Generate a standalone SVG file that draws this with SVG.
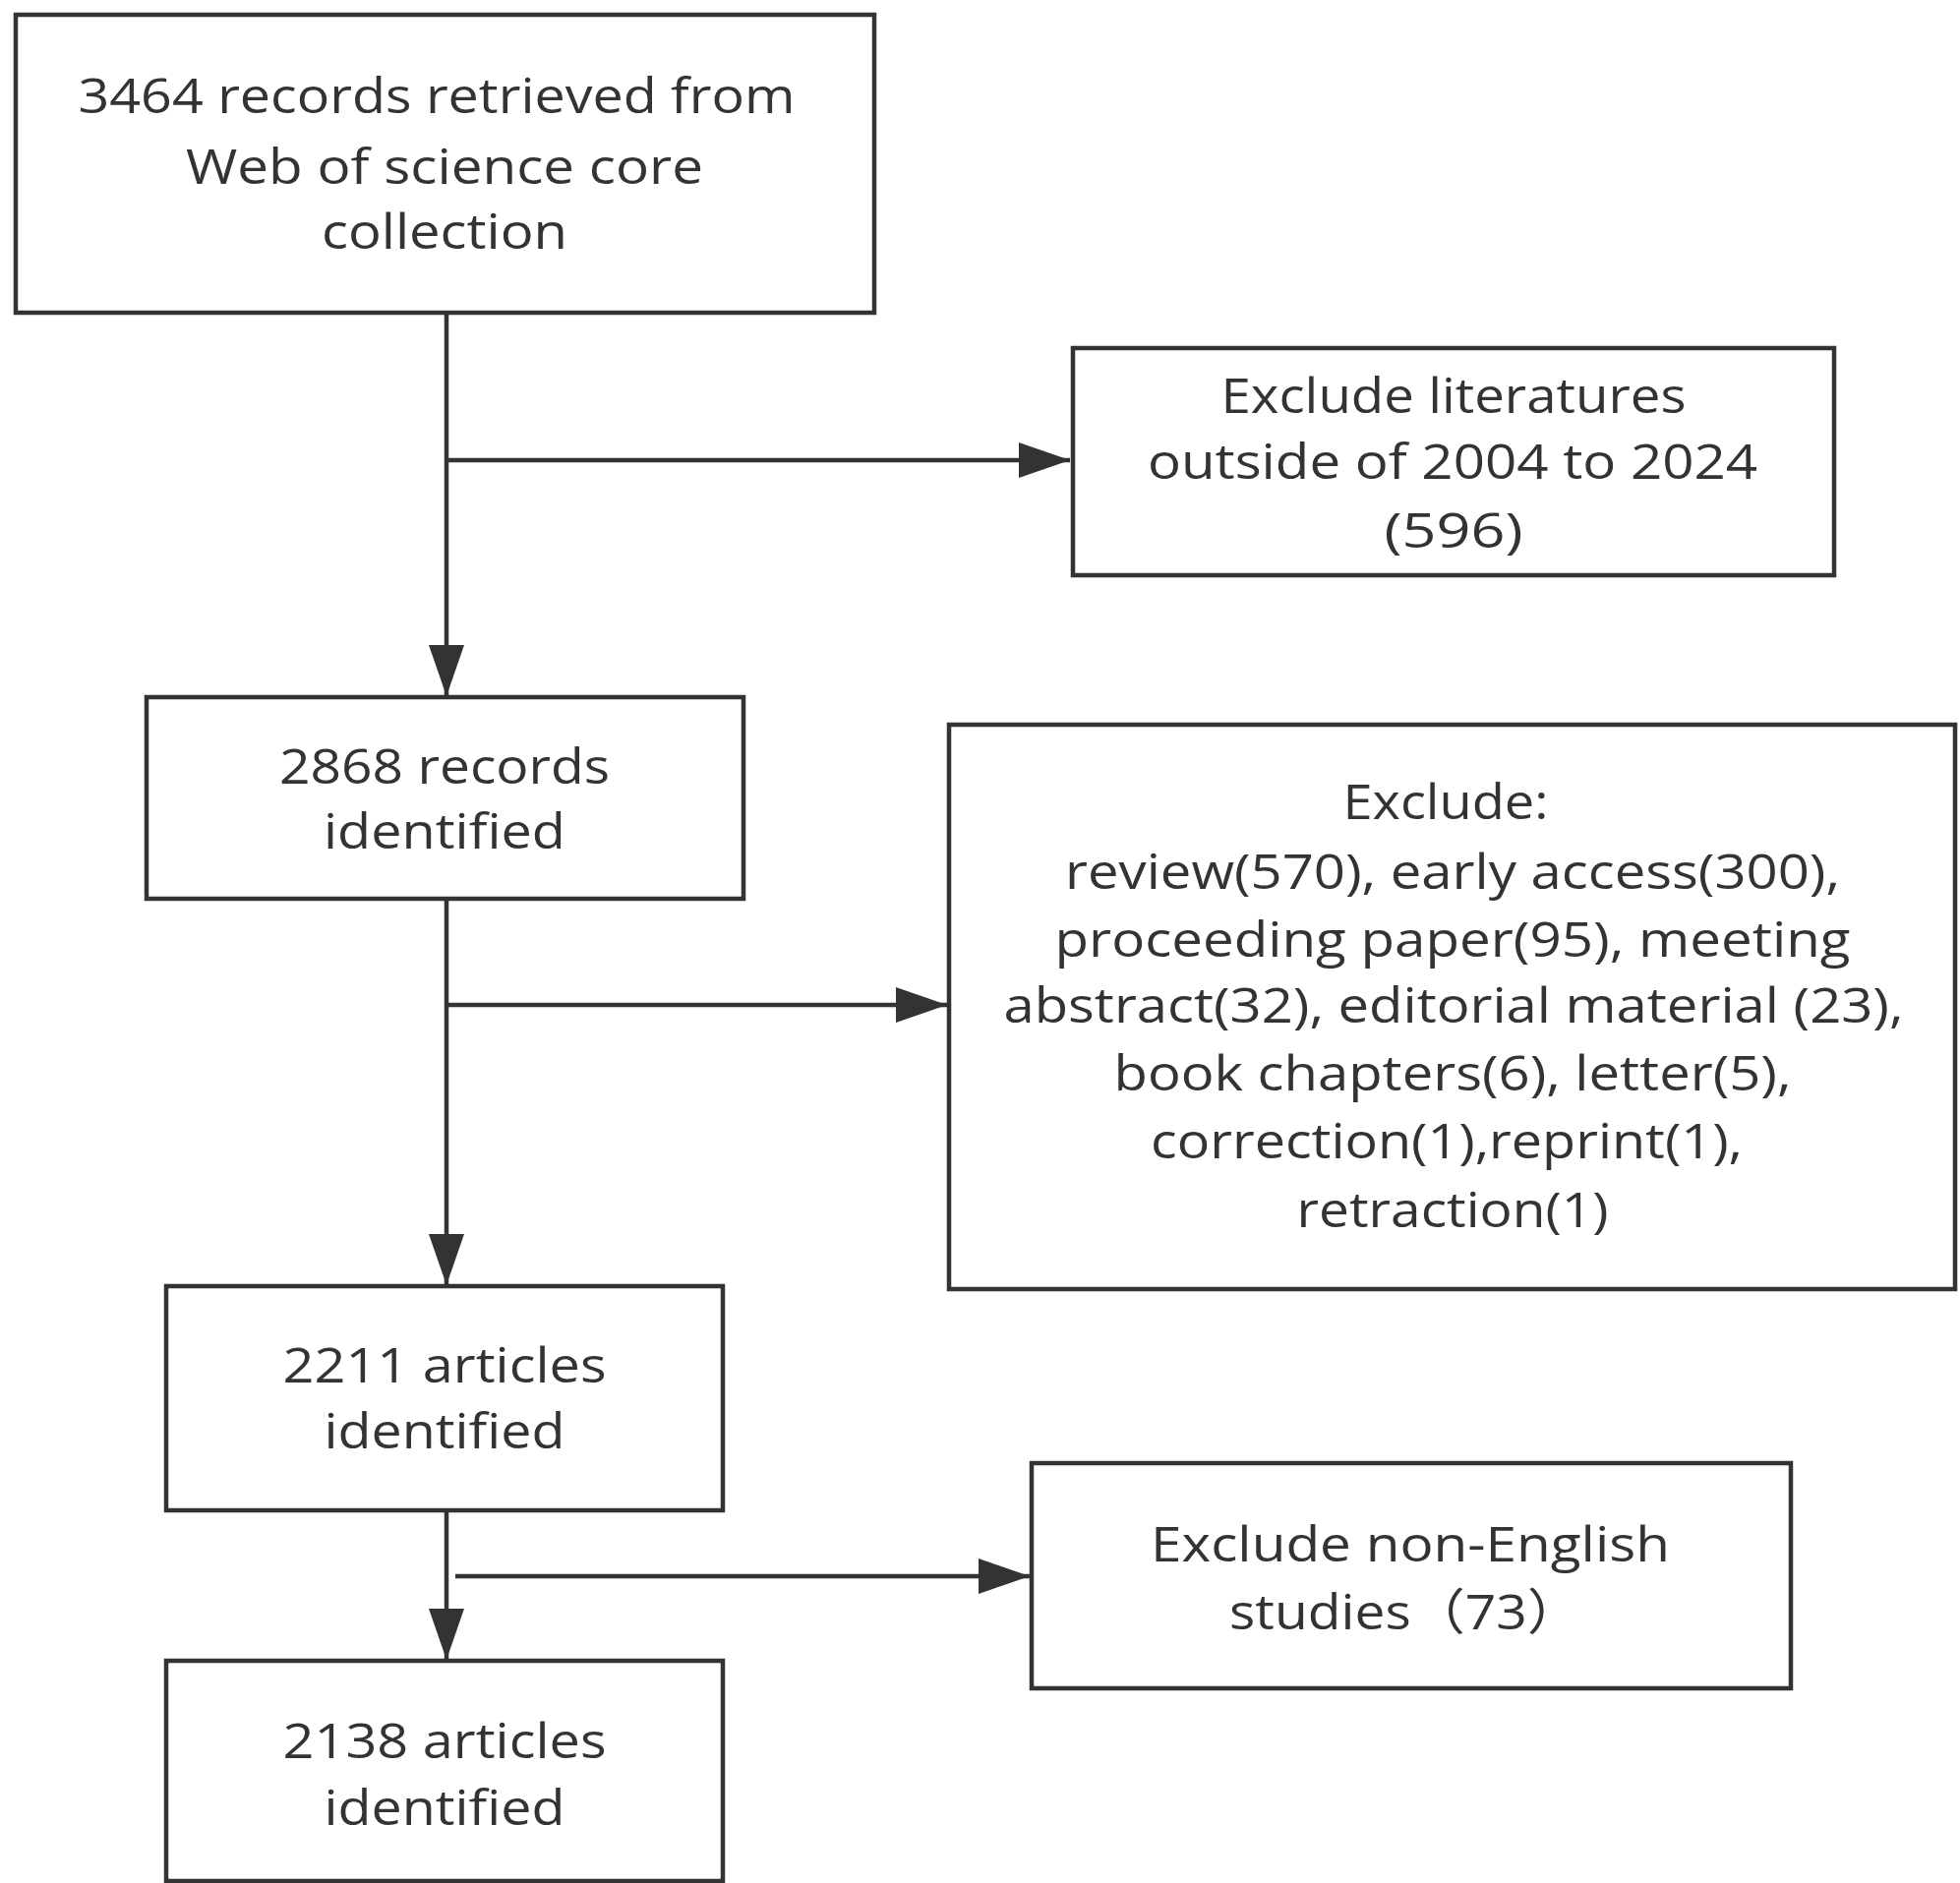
<svg xmlns="http://www.w3.org/2000/svg" width="1993" height="1915" viewBox="0 0 1993 1915">
  <style>
    .box { fill: #ffffff; stroke: #333333; stroke-width: 4.5; }
    .t { font-family: "Open Sans", "Noto Sans", "Noto Sans CJK SC", sans-serif; font-size: 50px; fill: #333333; text-anchor: middle; }
    .ts { font-family: "Open Sans", "Noto Sans", "Noto Sans CJK SC", sans-serif; font-size: 50px; fill: #333333; text-anchor: start; }
    .line { fill: none; stroke: #333333; stroke-width: 4.5; }
  </style>
  <defs>
    <marker id="arrow" markerUnits="userSpaceOnUse" markerWidth="52" markerHeight="36" refX="52" refY="18" orient="auto">
      <path d="M0,0 L52,18 L0,36 z" fill="#333333"/>
    </marker>
  </defs>
  <rect width="1993" height="1915" fill="#ffffff"/>

  <g id="connectors">
    <line class="line" x1="454" y1="318" x2="454" y2="708" marker-end="url(#arrow)"/>
    <line class="line" x1="454" y1="468" x2="1088" y2="468" marker-end="url(#arrow)"/>
    <line class="line" x1="454" y1="914" x2="454" y2="1307" marker-end="url(#arrow)"/>
    <line class="line" x1="454" y1="1022" x2="963" y2="1022" marker-end="url(#arrow)"/>
    <line class="line" x1="454" y1="1536" x2="454" y2="1688" marker-end="url(#arrow)"/>
    <line class="line" x1="463" y1="1603" x2="1047" y2="1603" marker-end="url(#arrow)"/>
  </g>

  <g id="node-records-retrieved">
    <rect class="box" x="16" y="15" width="873" height="303"/>
    <text class="t" x="444" y="115" textLength="729" lengthAdjust="spacingAndGlyphs">3464 records retrieved from</text>
    <text class="t" x="452" y="187" textLength="526" lengthAdjust="spacingAndGlyphs">Web of science core</text>
    <text class="t" x="452" y="253" textLength="250" lengthAdjust="spacingAndGlyphs">collection</text>
  </g>

  <g id="node-exclude-years">
    <rect class="box" x="1091" y="354" width="774" height="231"/>
    <text class="t" x="1478" y="420" textLength="473" lengthAdjust="spacingAndGlyphs">Exclude literatures</text>
    <text class="t" x="1477" y="487" textLength="620" lengthAdjust="spacingAndGlyphs">outside of 2004 to 2024</text>
    <text class="t" x="1478" y="557" textLength="141" lengthAdjust="spacingAndGlyphs">(596)</text>
  </g>

  <g id="node-2868-records">
    <rect class="box" x="149" y="709" width="607" height="205"/>
    <text class="t" x="452" y="797" textLength="336" lengthAdjust="spacingAndGlyphs">2868 records</text>
    <text class="t" x="452" y="863" textLength="246" lengthAdjust="spacingAndGlyphs">identified</text>
  </g>

  <g id="node-exclude-types">
    <rect class="box" x="965" y="737" width="1023" height="574"/>
    <text class="t" x="1470" y="833" textLength="209" lengthAdjust="spacingAndGlyphs">Exclude:</text>
    <text class="t" x="1477" y="904" textLength="788" lengthAdjust="spacingAndGlyphs">review(570), early access(300),</text>
    <text class="t" x="1477" y="973" textLength="809" lengthAdjust="spacingAndGlyphs">proceeding paper(95), meeting</text>
    <text class="t" x="1478" y="1040" textLength="915" lengthAdjust="spacingAndGlyphs">abstract(32), editorial material (23),</text>
    <text class="t" x="1477" y="1109" textLength="689" lengthAdjust="spacingAndGlyphs">book chapters(6), letter(5),</text>
    <text class="t" x="1471" y="1178" textLength="602" lengthAdjust="spacingAndGlyphs">correction(1),reprint(1),</text>
    <text class="t" x="1477" y="1248" textLength="317" lengthAdjust="spacingAndGlyphs">retraction(1)</text>
  </g>

  <g id="node-2211-articles">
    <rect class="box" x="169" y="1308" width="566" height="228"/>
    <text class="t" x="452" y="1406" textLength="329" lengthAdjust="spacingAndGlyphs">2211 articles</text>
    <text class="t" x="452" y="1473" textLength="245" lengthAdjust="spacingAndGlyphs">identified</text>
  </g>

  <g id="node-exclude-language">
    <rect class="box" x="1049" y="1488" width="772" height="229"/>
    <text class="t" x="1434" y="1588" textLength="528" lengthAdjust="spacingAndGlyphs">Exclude non-English</text>
    <text class="ts" x="1250" y="1657" textLength="358" lengthAdjust="spacingAndGlyphs">studies（73）</text>
  </g>

  <g id="node-2138-articles">
    <rect class="box" x="169" y="1689" width="566" height="224"/>
    <text class="t" x="452" y="1788" textLength="329" lengthAdjust="spacingAndGlyphs">2138 articles</text>
    <text class="t" x="452" y="1856" textLength="245" lengthAdjust="spacingAndGlyphs">identified</text>
  </g>
</svg>
